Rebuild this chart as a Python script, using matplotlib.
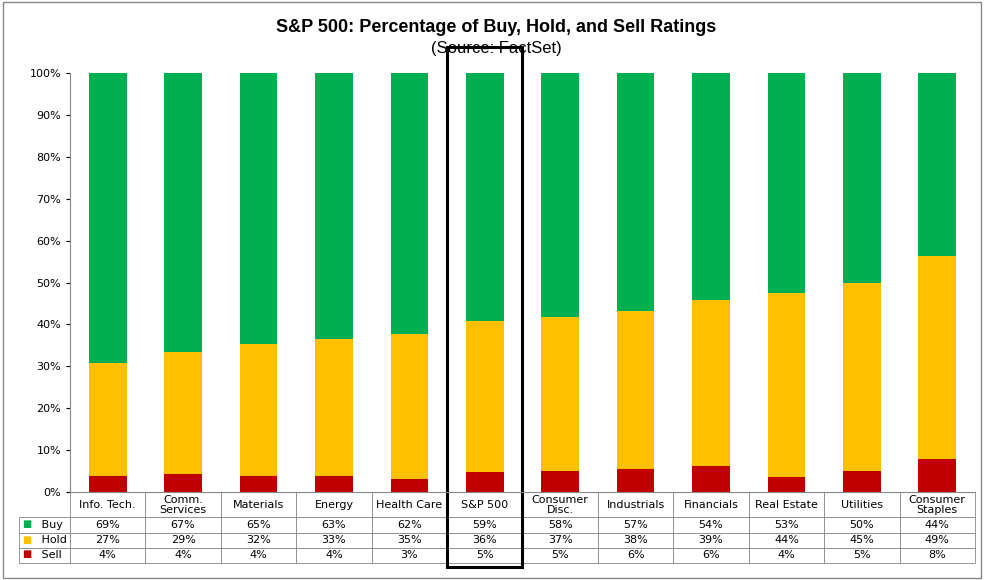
import matplotlib.pyplot as plt
import matplotlib.transforms as mtransforms
from matplotlib.patches import Rectangle
import numpy as np

categories = ['Info. Tech.', 'Comm.\nServices', 'Materials', 'Energy', 'Health Care', 'S&P 500',
              'Consumer\nDisc.', 'Industrials', 'Financials', 'Real Estate', 'Utilities', 'Consumer\nStaples']
buy = [69, 67, 65, 63, 62, 59, 58, 57, 54, 53, 50, 44]
hold = [27, 29, 32, 33, 35, 36, 37, 38, 39, 44, 45, 49]
sell = [4, 4, 4, 4, 3, 5, 5, 6, 6, 4, 5, 8]
# bar heights as drawn (normalised so each bar reaches 100%)
sell_bar = [3.7, 4.3, 3.7, 3.9, 3.1, 4.7, 4.9, 5.5, 6.3, 3.5, 4.9, 7.8]
hold_bar = [27.0, 29.0, 31.6, 32.7, 34.5, 36.0, 36.8, 37.8, 39.6, 44.0, 45.1, 48.5]

green = '#00b050'
yellow = '#ffc000'
red = '#c00000'

fig = plt.figure(figsize=(9.93, 5.8), dpi=100)
ax = fig.add_axes([70 / 993, 1 - 492 / 580, 905 / 993, 419 / 580])
x = np.arange(len(categories))
w = 0.5
ax.bar(x, sell_bar, w, color=red)
ax.bar(x, hold_bar, w, bottom=sell_bar, color=yellow)
top = [100 - s - h for s, h in zip(sell_bar, hold_bar)]
ax.bar(x, top, w, bottom=[s + h for s, h in zip(sell_bar, hold_bar)], color=green)
ax.set_xlim(-0.5, len(categories) - 0.5)
ax.set_ylim(0, 100)
ax.set_yticks(range(0, 101, 10))
ax.set_yticklabels([f'{v}%' for v in range(0, 101, 10)], fontsize=8)
ax.set_xticks([])
ax.tick_params(axis='y', length=3)
for s in ['top', 'right']:
    ax.spines[s].set_visible(False)
ax.spines['left'].set_color('#888888')
ax.spines['bottom'].set_color('#888888')

cell_text = [[f'{v}%' for v in buy], [f'{v}%' for v in hold], [f'{v}%' for v in sell]]
tbl = ax.table(cellText=cell_text, rowLabels=['     Buy', '     Hold', '     Sell'],
               colLabels=categories, cellLoc='center', rowLoc='left',
               bbox=[0, -71 / 419, 1, 71 / 419])
tbl.auto_set_font_size(False)
tbl.set_fontsize(8)
for (r, c), cell in tbl.get_celld().items():
    cell.set_edgecolor('#888888')
    cell.set_linewidth(0.6)
    cell.set_height(25 / 419 if r == 0 else 15 / 419)
    if r == 0:
        cell.get_text().set_linespacing(1.0)

# legend squares in row labels
for i, col in enumerate([green, yellow, red]):
    yb = 1 - (517 + 15 * i + 7.5) / 580
    fig.text(27 / 993, yb, '■', color=col, fontsize=7, va='center', ha='center')

trans = mtransforms.blended_transform_factory(ax.transData, ax.transAxes)
ax.add_patch(Rectangle((4.5, -75 / 419), 1.0, 1 + 26 / 419 + 75 / 419, transform=trans,
                       fill=False, edgecolor='black', linewidth=2.2, clip_on=False))

fig.text(0.5, 1 - 28 / 580, 'S&P 500: Percentage of Buy, Hold, and Sell Ratings',
         ha='center', va='center', fontsize=13, fontweight='bold', family='Liberation Sans')
fig.text(0.5, 1 - 48 / 580, '(Source: FactSet)', ha='center', va='center', fontsize=12,
         family='Liberation Sans')
fig.patches.append(Rectangle((0.003, 0.003), 0.985, 0.993, transform=fig.transFigure,
                             fill=False, edgecolor='#888888', linewidth=1))
fig.savefig('out.png', dpi=100)
